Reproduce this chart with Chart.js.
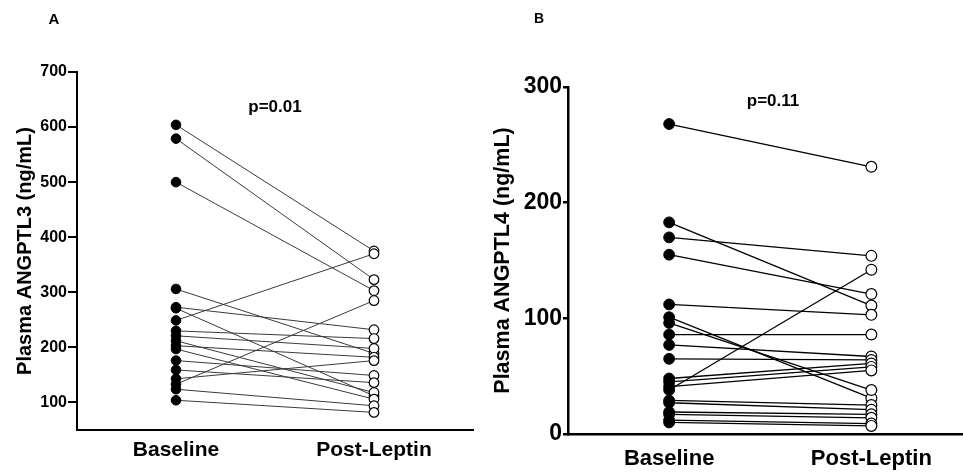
<!DOCTYPE html>
<html>
<head>
<meta charset="utf-8">
<script src="https://cdn.jsdelivr.net/npm/chart.js@4"></script>
<style>
  body { margin: 0; background: #fff; overflow: hidden; }
  #wrap { position: relative; width: 963px; height: 472px; overflow: hidden; font-family: "Liberation Sans", Arial, sans-serif; font-weight: bold; }
  .box { position: absolute; top: 0; }
  .lbl { position: absolute; transform: translate(-50%, -50%); white-space: nowrap; color: #000; }
</style>
</head>
<body>
<div id="wrap">
  <div class="box" style="left:0"><canvas id="chartA" width="480" height="472"></canvas></div>
  <div class="box" style="left:480px"><canvas id="chartB" width="491" height="472"></canvas></div>
  <div class="lbl" style="left:54px;top:18px;font-size:15px">A</div>
  <div class="lbl" style="left:539px;top:18px;font-size:14px">B</div>
  <div class="lbl" style="left:275px;top:107px;font-size:17px">p=0.01</div>
  <div class="lbl" style="left:773px;top:101px;font-size:17px">p=0.11</div>
</div>
<script>
const categories = ['Baseline', 'Post-Leptin'];

// Panel A - ANGPTL3, paired values (same index = same subject)
const baselineA = [604, 579, 500, 306, 273, 271, 249, 230, 221, 212, 203, 197, 176, 159, 143, 133, 124, 104];
const postA     = [375, 323, 303, 189, 232, 112, 370, 216, 198, 118, 182, 106, 149, 136, 176, 285, 94, 82];
const ticksA = [100, 200, 300, 400, 500, 600, 700];

// Panel B - ANGPTL4
const baselineB = [268, 183, 170, 155, 112, 101, 96, 86, 77, 65, 48, 45, 41, 38, 29, 27, 19, 17, 12, 10];
const postB     = [231, 111, 154, 121, 103, 31, 38, 86, 67, 64, 61, 58, 55, 142, 25, 21, 17, 14, 9, 7];
const ticksB = [0, 100, 200, 300];

const FONT = '"Liberation Sans", Arial, sans-serif';

function makePanel(id, base, post, ticks, cfg) {
  // point sets first: Chart.js paints dataset 0 last, so dots sit over the lines
  const pointSets = [
    {
      data: post.map(v => ({ x: 1, y: v })),
      pointRadius: cfg.r, pointBackgroundColor: '#fff', pointBorderColor: '#000', pointBorderWidth: 1.2
    },
    {
      data: base.map(v => ({ x: 0, y: v })),
      pointRadius: cfg.r, pointBackgroundColor: '#000', pointBorderColor: '#000', pointBorderWidth: 1
    }
  ];
  const lineSets = base.map((v, i) => ({
    data: [{ x: 0, y: v }, { x: 1, y: post[i] }],
    showLine: true,
    borderColor: cfg.lineColor,
    borderWidth: cfg.lineW,
    pointRadius: 0
  }));

  new Chart(document.getElementById(id), {
    type: 'scatter',
    data: { datasets: pointSets.concat(lineSets) },
    options: {
      responsive: false,
      animation: false,
      layout: { padding: { left: 0, top: cfg.top, right: cfg.right, bottom: 0 } },
      plugins: { legend: { display: false }, tooltip: { enabled: false } },
      scales: {
        x: {
          type: 'linear', min: -0.5, max: cfg.xMax,
          afterBuildTicks: s => { s.ticks = [0, 1].map(v => ({ value: v })); },
          afterFit: s => { s.height = cfg.bottomH; },
          grid: { display: false, drawTicks: false },
          border: { display: true, color: '#000', width: cfg.axisW },
          ticks: {
            callback: v => categories[v],
            color: '#000', padding: cfg.xPad,
            font: { family: FONT, weight: 'bold', size: cfg.xFont }
          }
        },
        y: {
          min: cfg.yMin, max: cfg.yMax,
          afterBuildTicks: s => { s.ticks = ticks.map(v => ({ value: v })); },
          afterFit: s => { s.width = cfg.left; },
          grid: { display: true, drawOnChartArea: false, tickLength: cfg.tickLen, color: '#000', lineWidth: cfg.axisW },
          border: { display: true, color: '#000', width: cfg.axisW },
          ticks: {
            color: '#000', padding: 1,
            font: { family: FONT, weight: 'bold', size: cfg.yFont }
          },
          title: {
            display: true, text: cfg.title, color: '#000',
            font: { family: FONT, weight: 'bold', size: cfg.titleFont },
            padding: { top: cfg.titlePad, bottom: 0 }
          }
        }
      }
    }
  });
}

makePanel('chartA', baselineA, postA, ticksA, {
  title: 'Plasma ANGPTL3 (ng/mL)', yMin: 50, yMax: 700, xMax: 1.5,
  top: 72, right: 7, left: 77, bottomH: 42,
  r: 4.8, lineColor: '#3a3a3a', lineW: 1, axisW: 2, tickLen: 9,
  xFont: 21, xPad: 8, yFont: 16, titleFont: 20, titlePad: 13
});

makePanel('chartB', baselineB, postB, ticksB, {
  title: 'Plasma ANGPTL4 (ng/mL)', yMin: 0, yMax: 300, xMax: 1.46,
  top: 87, right: 0, left: 88, bottomH: 38,
  r: 5.4, lineColor: '#000', lineW: 1.3, axisW: 2.5, tickLen: 5,
  xFont: 22, xPad: 12, yFont: 23, titleFont: 21.5, titlePad: 10
});
</script>
</body>
</html>
